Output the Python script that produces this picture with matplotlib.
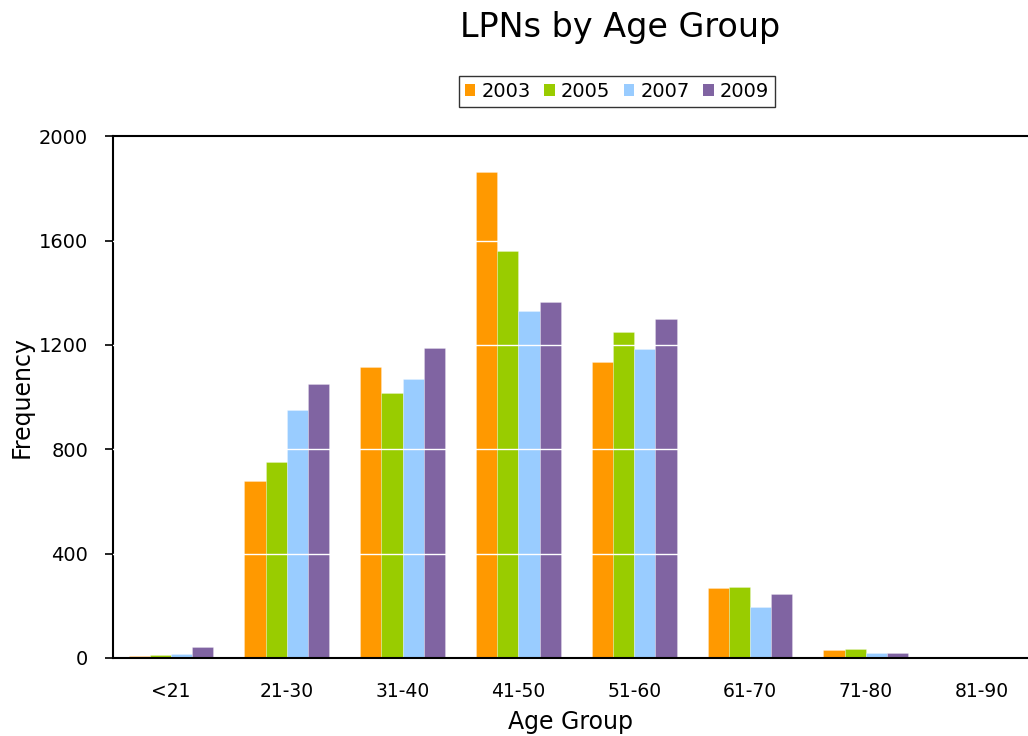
import matplotlib
matplotlib.use("Agg")
import matplotlib.pyplot as plt
from matplotlib.patches import Patch
import numpy as np

plt.rcParams['font.family'] = ['DejaVu Sans']

age_groups = ["<21", "21-30", "31-40", "41-50", "51-60", "61-70", "71-80", "81-90"]
years = ["2003", "2005", "2007", "2009"]
counts_2003 = [8, 678, 1115, 1862, 1134, 268, 31, 0]
counts_2005 = [12, 751, 1015, 1559, 1249, 272, 34, 2]
counts_2007 = [16, 950, 1069, 1330, 1184, 195, 19, 2]
counts_2009 = [42, 1050, 1188, 1364, 1299, 245, 19, 0]
series = [counts_2003, counts_2005, counts_2007, counts_2009]
colors = ["#FF9900", "#99CC00", "#99CCFF", "#8064A2"]
y_ticks = [0, 400, 800, 1200, 1600, 2000]

fig = plt.figure(figsize=(10.28, 7.36), dpi=100)
ax = fig.add_axes([0.110, 0.106, 0.890, 0.709])

x = np.arange(len(age_groups))
bar_w = 0.183
for i, (vals, col) in enumerate(zip(series, colors)):
    ax.bar(x + (i - 1.5) * bar_w, vals, width=bar_w, color=col,
           edgecolor=(1, 1, 1, 0.35), linewidth=0.5, zorder=2)

# white gridlines drawn over the bars
for t in y_ticks[1:-1]:
    ax.axhline(t, color="white", linewidth=1.0, zorder=3)

ax.set_xlim(-0.5, 7.4)
ax.set_ylim(0, 2000)
ax.set_yticks(y_ticks)
ax.set_yticklabels([str(t) for t in y_ticks], fontsize=14)
ax.set_xticks(x)
ax.set_xticklabels(age_groups, fontsize=13.5)
ax.tick_params(axis="x", length=0, pad=17)
ax.tick_params(axis="y", length=6, width=1.2, direction="out", pad=12)

for s in ["left", "bottom", "top"]:
    ax.spines[s].set_linewidth(1.5)
    ax.spines[s].set_color("black")
ax.spines["right"].set_visible(False)

ax.set_xlabel("Age Group", fontsize=17, labelpad=7)
ax.set_ylabel("Frequency", fontsize=17, labelpad=4)

fig.text(0.603, 0.963, "LPNs by Age Group", fontsize=24, ha="center", va="center")

handles = [Patch(facecolor=c, edgecolor="none") for c in colors]
leg = fig.legend(handles, years, loc="center", bbox_to_anchor=(0.6, 0.876),
                 ncol=4, fontsize=14, frameon=True, fancybox=False,
                 handlelength=0.55, handleheight=0.55, handletextpad=0.3,
                 columnspacing=0.7, borderpad=0.3, borderaxespad=0)
leg.get_frame().set_edgecolor("black")
leg.get_frame().set_linewidth(1.0)

fig.savefig("out.png", dpi=100)
